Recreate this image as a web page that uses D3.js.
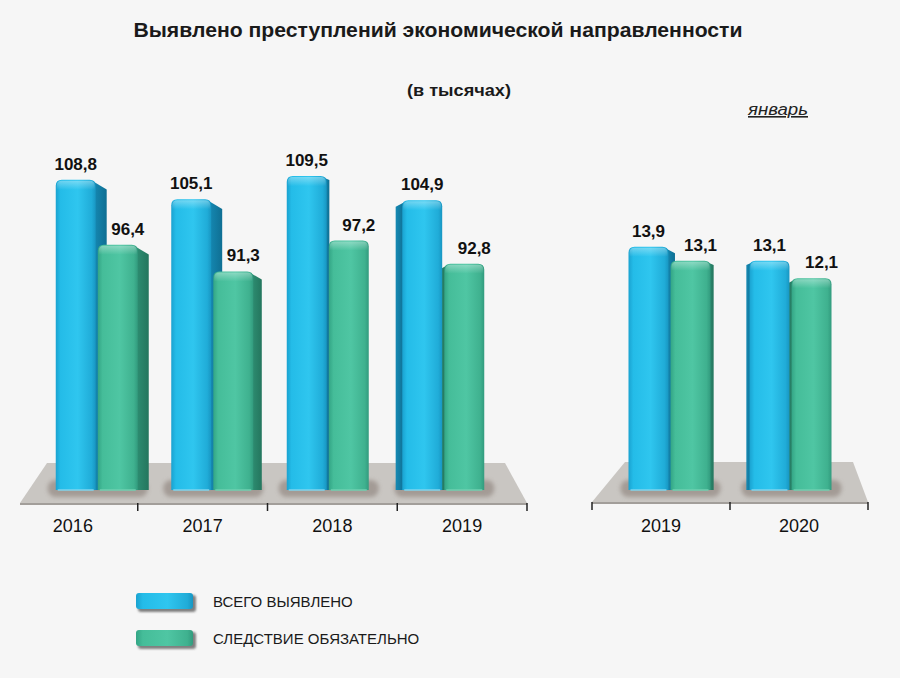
<!DOCTYPE html>
<html><head><meta charset="utf-8">
<script src="https://cdn.jsdelivr.net/npm/d3@7/dist/d3.min.js"></script>
<style>
html,body{margin:0;padding:0;background:#f5f5f5;}
svg{display:block;font-family:"Liberation Sans",Arial,sans-serif;}
</style></head>
<body>
<svg id="chart" width="900" height="678"></svg>
<script>
// ---- data ----
const years = ['2016', '2017', '2018', '2019'];
const totalDetected = [108.8, 105.1, 109.5, 104.9];
const investigationRequired = [96.4, 91.3, 97.2, 92.8];
const janYears = ['2019', '2020'];
const janTotal = [13.9, 13.1];
const janInvestigation = [13.1, 12.1];
const seriesNames = ['ВСЕГО ВЫЯВЛЕНО', 'СЛЕДСТВИЕ ОБЯЗАТЕЛЬНО'];
const titleText = 'Выявлено преступлений экономической направленности';
const subtitleText = '(в тысячах)';
const janLabel = 'январь';

const fmt = v => d3.format('.1f')(v).replace('.', ',');

const svg = d3.select('#chart');
svg.append('rect').attr('width', 900).attr('height', 678).attr('fill', '#f6f6f6');

const defs = svg.append('defs');
function hGrad(id, stops) {
  const g = defs.append('linearGradient').attr('id', id).attr('x1', '0').attr('x2', '1').attr('y1', '0').attr('y2', '0');
  stops.forEach(s => g.append('stop').attr('offset', s[0]).attr('stop-color', s[1]));
}
hGrad('blueFront', [[0, '#1aa2d0'], [0.12, '#24bce8'], [0.55, '#2fc6ef'], [0.9, '#20acd8'], [1, '#1896c2']]);
hGrad('greenFront', [[0, '#33a585'], [0.12, '#45bd99'], [0.55, '#4fc6a3'], [0.9, '#3fb18f'], [1, '#329b7e']]);
hGrad('blueSide', [[0, '#1589b3'], [1, '#0f6f93']]);
hGrad('greenSide', [[0, '#2e8f73'], [1, '#24765e']]);
const vg = defs.append('linearGradient').attr('id', 'topShine').attr('x1', 0).attr('x2', 0).attr('y1', 0).attr('y2', 1);
vg.append('stop').attr('offset', 0).attr('stop-color', '#fff').attr('stop-opacity', 0.35);
vg.append('stop').attr('offset', 1).attr('stop-color', '#fff').attr('stop-opacity', 0);
defs.append('filter').attr('id', 'blur2').attr('x', '-20%').attr('y', '-50%').attr('width', '140%').attr('height', '200%')
  .append('feGaussianBlur').attr('stdDeviation', 2);
defs.append('filter').attr('id', 'blur1').append('feGaussianBlur').attr('stdDeviation', 1.2);

const colors = {
  front: ['url(#blueFront)', 'url(#greenFront)'],
  side: ['url(#blueSide)', 'url(#greenSide)']
};
const labelDx = [0, 10];

// ---- titles ----
svg.append('text').attr('x', 438).attr('y', 37).attr('text-anchor', 'middle')
  .attr('font-size', 20.5).attr('font-weight', 'bold').attr('fill', '#1a1a1a')
  .attr('textLength', 609).attr('lengthAdjust', 'spacingAndGlyphs').text(titleText);
svg.append('text').attr('x', 459).attr('y', 96).attr('text-anchor', 'middle')
  .attr('font-size', 17).attr('font-weight', 'bold').attr('fill', '#1a1a1a')
  .attr('textLength', 104).attr('lengthAdjust', 'spacingAndGlyphs').text(subtitleText);
svg.append('text').attr('x', 748).attr('y', 115)
  .attr('font-size', 16).attr('font-style', 'italic').attr('fill', '#222')
  .attr('textLength', 60).attr('lengthAdjust', 'spacingAndGlyphs')
  .attr('text-decoration', 'underline').text(janLabel);

// ---- panel drawing ----
function drawPanel(cfg) {
  const g = svg.append('g');
  const xFront = d3.scaleBand().domain(cfg.cats).range(cfg.frontRange).padding(0);
  const xBack = d3.scaleBand().domain(cfg.cats).range(cfg.backRange).padding(0);
  const xInner = d3.scaleBand().domain([0, 1]).range([-42, 40]).paddingInner(0.05);
  const y = cfg.y;
  const base = y.range()[0];

  // plate
  const p = cfg.plate;
  g.append('polygon')
    .attr('points', [[p.bl, p.by], [p.br, p.by], [p.fr, p.fy], [p.fl, p.fy]].map(d => d.join(',')).join(' '))
    .attr('fill', '#c9c6c2');
  g.append('polygon')
    .attr('points', [[p.fl, p.fy], [p.fr, p.fy], [p.fr, p.fy + 2], [p.fl, p.fy + 2]].map(d => d.join(',')).join(' '))
    .attr('fill', '#a29e9a');

  // ticks
  const bounds = cfg.cats.map(c => xFront(c)).concat([xFront.range()[1]]);
  bounds.forEach((bx, i) => {
    if (cfg.skipFirstTick && i === 0) return;
    g.append('line').attr('x1', bx).attr('x2', bx).attr('y1', p.fy).attr('y2', p.fy + 8)
      .attr('stroke', '#222').attr('stroke-width', 1.5);
  });

  // category labels
  g.selectAll('text.cat').data(cfg.cats).join('text').attr('class', 'cat')
    .attr('x', d => xFront(d) + xFront.bandwidth() / 2).attr('y', 532)
    .attr('text-anchor', 'middle').attr('font-size', 18).attr('fill', '#111').text(d => d);

  // shadows at base
  cfg.cats.forEach(c => {
    const cx = xBack(c) + xBack.bandwidth() / 2;
    g.append('rect').attr('x', cx - 50).attr('y', base - 10).attr('width', 100).attr('height', 17)
      .attr('rx', 8).attr('fill', '#8a7f78').attr('opacity', 0.6).attr('filter', 'url(#blur2)');
  });

  // bars
  const bw = xInner.bandwidth();
  cfg.cats.forEach((c, i) => {
    const cx = xBack(c) + xBack.bandwidth() / 2;
    const vals = [cfg.s1[i], cfg.s2[i]];
    const order = (cfg.vp - cx) >= 0 ? [0, 1] : [1, 0];
    order.forEach(s => {
      const x0 = cx + xInner(s);
      const top = y(vals[s]);
      const mid = x0 + bw / 2;
      let dx = Math.max(-11, Math.min(11, (cfg.vp - mid) * 0.08));
      const r = 6;
      // side face
      if (Math.abs(dx) > 1) {
        const ex = dx > 0 ? x0 + bw - 2 : x0 + 2;
        const sx = dx > 0 ? x0 + bw + dx : x0 + dx;
        const drop = Math.abs(dx) * 0.7;
        g.append('path')
          .attr('d', `M${ex},${top + 2} L${sx},${top + 2 + drop} L${sx},${base} L${ex},${base} Z`)
          .attr('fill', colors.side[s]);
      }
      // front
      g.append('path')
        .attr('d', `M${x0},${base} V${top + r} Q${x0},${top} ${x0 + r},${top} H${x0 + bw - r} Q${x0 + bw},${top} ${x0 + bw},${top + r} V${base} Z`)
        .attr('fill', colors.front[s]);
      g.append('path')
        .attr('d', `M${x0 + 1},${top + 10} V${top + r} Q${x0 + 1},${top + 1} ${x0 + r},${top + 1} H${x0 + bw - r} Q${x0 + bw - 1},${top + 1} ${x0 + bw - 1},${top + r} V${top + 10} Z`)
        .attr('fill', 'url(#topShine)');
      // bottom line
      g.append('line').attr('x1', x0 + 2).attr('x2', x0 + bw - 2).attr('y1', base).attr('y2', base)
        .attr('stroke', s === 0 ? '#7fd4ee' : '#6fcfb0').attr('stroke-width', 1.5);
      // value label
      g.append('text').attr('x', mid + labelDx[s]).attr('y', top - 10)
        .attr('text-anchor', 'middle').attr('font-size', 17).attr('font-weight', 'bold')
        .attr('fill', '#111').text(fmt(vals[s]));
    });
  });
}

drawPanel({
  cats: years, s1: totalDetected, s2: investigationRequired,
  frontRange: [8, 527], backRange: [40, 502],
  y: d3.scaleLinear().domain([49.6, 115]).range([490, 490 - 5.24 * (115 - 49.6)]),
  vp: 340, skipFirstTick: true,
  plate: { bl: 47, br: 505, by: 463, fl: 20, fr: 527, fy: 503 }
});
drawPanel({
  cats: janYears, s1: janTotal, s2: janInvestigation,
  frontRange: [592, 868], backRange: [610, 852],
  y: d3.scaleLinear().domain([0, 15]).range([490, 490 - 17.5 * 15]),
  vp: 730, skipFirstTick: false,
  plate: { bl: 625, br: 853, by: 462, fl: 592, fr: 868, fy: 502 }
});

// ---- legend ----
const leg = svg.append('g');
seriesNames.forEach((name, i) => {
  const yy = 593 + i * 37;
  leg.append('rect').attr('x', 138).attr('y', yy + 2).attr('width', 58).attr('height', 17).attr('rx', 3)
    .attr('fill', '#333').attr('opacity', 0.6).attr('filter', 'url(#blur1)');
  leg.append('rect').attr('x', 136).attr('y', yy).attr('width', 57).attr('height', 16).attr('rx', 3)
    .attr('fill', colors.front[i]);
  leg.append('text').attr('x', 213).attr('y', yy + 14).attr('font-size', 15).attr('fill', '#1a1a1a').text(name);
});
</script>
</body></html>
